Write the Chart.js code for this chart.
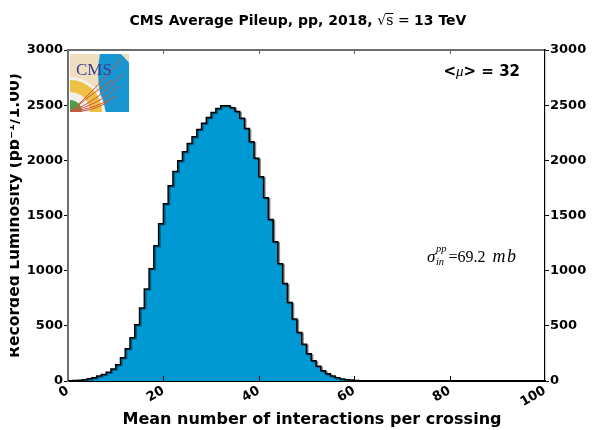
<!DOCTYPE html>
<html>
<head>
<meta charset="utf-8">
<script src="https://cdn.jsdelivr.net/npm/chart.js@4.4.1/dist/chart.umd.min.js"></script>
<style>
  html, body { margin: 0; padding: 0; background: #fff; }
</style>
</head>
<body>
<canvas id="pileup" width="602" height="430"></canvas>
<script>
"use strict";
// recorded luminosity (pb^-1) in each pileup bin of width 1, starting at 0
const binLow = 0;
const binWidth = 1;
const lumiPerBin = [
  1, 2, 4, 7, 12, 21, 30, 45, 60, 80,
  108, 148, 210, 292, 391, 510, 661, 833, 1017, 1226,
  1425, 1606, 1769, 1899, 1996, 2077, 2153, 2213, 2279, 2337,
  2388, 2433, 2470, 2494, 2494, 2476, 2442, 2382, 2288, 2168,
  2020, 1851, 1660, 1464, 1262, 1063, 884, 712, 562, 440,
  332, 248, 184, 133, 94, 66, 45, 30, 19, 12,
  8, 5, 3, 2, 1, 1, 0.5, 0.3, 0.2, 0.1,
  0, 0, 0, 0, 0, 0, 0, 0, 0, 0,
  0, 0, 0, 0, 0, 0, 0, 0, 0, 0,
  0, 0, 0, 0, 0, 0, 0, 0, 0, 0,
];
const xTicks = [0, 20, 40, 60, 80, 100];
const yTicks = [0, 500, 1000, 1500, 2000, 2500, 3000];
const meanPileup = 32;
const sigmaInel = "69.2";

const sans = "'DejaVu Sans', sans-serif";
const serif = "'Liberation Serif', 'DejaVu Serif', serif";
const fillBlue = "#0099d4";

// step outline points: each bin starts at its lower edge, last point closes at 100
const stepPoints = lumiPerBin.map((v, i) => ({ x: binLow + i * binWidth, y: v }));
stepPoints.push({ x: binLow + lumiPerBin.length * binWidth, y: lumiPerBin[lumiPerBin.length - 1] });

// draw a row of text pieces with different fonts
const drawRuns = (ctx, runs, x, y, align) => {
  let total = 0;
  for (const r of runs) {
    ctx.font = r.font;
    r.w = ctx.measureText(r.text).width + (r.gap || 0);
    total += r.w;
  }
  let cx = align === "center" ? x - total / 2 : align === "right" ? x - total : x;
  ctx.textAlign = "left";
  ctx.textBaseline = "alphabetic";
  for (const r of runs) {
    ctx.font = r.font;
    ctx.fillText(r.text, cx + (r.gap || 0), y + (r.dy || 0));
    if (r.over) {
      ctx.fillRect(cx - 1, y - r.over, r.w + 1, 1);
    }
    cx += r.w;
  }
  return cx;
};

const drawLogo = (ctx, x, y, w, h) => {
  ctx.save();
  ctx.beginPath();
  ctx.rect(x, y, w, h);
  ctx.clip();
  ctx.fillStyle = "#efdfbe";
  ctx.fillRect(x, y, w, h);
  const ox = x, oy = y + h;
  const disk = (r, color) => {
    ctx.fillStyle = color;
    ctx.beginPath();
    ctx.arc(ox, oy, r, 0, Math.PI * 2);
    ctx.fill();
  };
  // outer muon crescent
  ctx.fillStyle = "#1896d2";
  ctx.beginPath();
  ctx.moveTo(ox + 36, oy);
  ctx.lineTo(ox + 77, oy);
  ctx.arc(ox, oy, 77, 0, -Math.PI * 0.36, true);
  ctx.quadraticCurveTo(ox + 22, oy - 34, ox + 36, oy);
  ctx.closePath();
  ctx.fill();
  disk(35, "#f4f1ea");
  disk(32, "#ecc144");
  disk(20, "#f1efea");
  disk(12, "#4d9e4a");
  // tracks
  ctx.strokeStyle = "#d2543d";
  ctx.lineWidth = 1;
  const tracks = [
    [95, 90, 121, 59],
    [100, 100, 122, 74],
    [100, 104, 119, 86],
    [98, 108, 116, 96],
    [92, 112, 108, 102],
    [90, 95, 112, 80],
  ];
  for (const [cx, cy, ex, ey] of tracks) {
    ctx.beginPath();
    ctx.moveTo(ox, oy);
    ctx.quadraticCurveTo(cx, cy, ex, ey);
    ctx.stroke();
  }
  ctx.fillStyle = "#3a3f92";
  ctx.font = "17px " + serif;
  ctx.textAlign = "left";
  ctx.textBaseline = "alphabetic";
  ctx.fillText("CMS", x + 6, y + 21);
  ctx.restore();
};

const decorations = {
  id: "decorations",
  beforeDatasetsDraw(chart) {
    const ctx = chart.ctx;
    ctx.save();
    ctx.shadowColor = "rgba(0,0,0,0.35)";
    ctx.shadowOffsetX = 1.5;
    ctx.shadowOffsetY = 1;
  },
  afterDatasetsDraw(chart) {
    chart.ctx.restore();
  },
  afterDraw(chart) {
    const ctx = chart.ctx;
    const area = chart.chartArea;
    const xs = chart.scales.x;
    ctx.save();

    // inward tick marks on bottom and top edges
    for (const v of xTicks.slice(1, -1)) {
      const px = Math.round(xs.getPixelForValue(v)) + 0.5;
      ctx.strokeStyle = "#000";
      ctx.lineWidth = 1;
      ctx.beginPath();
      ctx.moveTo(px, area.bottom);
      ctx.lineTo(px, area.bottom - 5);
      ctx.stroke();
      ctx.strokeStyle = "#666";
      ctx.beginPath();
      ctx.moveTo(px, area.top);
      ctx.lineTo(px, area.top + 4);
      ctx.stroke();
    }

    ctx.fillStyle = "#000";
    // title
    drawRuns(ctx, [
      { text: "CMS Average Pileup, pp, 2018, ", font: "bold 14px " + sans },
      { text: "√", font: "14px 'DejaVu Serif', serif" },
      { text: "s", font: "14px 'DejaVu Serif', serif", over: 12 },
      { text: " = ", font: "14px 'DejaVu Serif', serif" },
      { text: "13 TeV", font: "bold 14px " + sans },
    ], 298, 25, "center");

    // axis titles
    ctx.font = "bold 16px " + sans;
    ctx.textAlign = "center";
    ctx.textBaseline = "alphabetic";
    ctx.fillText("Mean number of interactions per crossing", 312, 424);
    ctx.save();
    // the left edge of the page trims the tops of the rotated glyphs
    ctx.beginPath();
    ctx.rect(10, 0, 40, 430);
    ctx.clip();
    ctx.font = "bold 15.5px " + sans;
    ctx.translate(19, (area.top + area.bottom) / 2);
    ctx.rotate(-Math.PI / 2);
    ctx.fillText("Recorded Luminosity (pb⁻¹/1.00)", 0, 0);
    ctx.restore();

    // mean pileup
    drawRuns(ctx, [
      { text: "<", font: "bold 15px " + sans },
      { text: "μ", font: "italic 15px " + serif },
      { text: "> = " + meanPileup, font: "bold 15px " + sans },
    ], 520, 76, "right");

    // inelastic cross section
    let cx = 427;
    const base = 262;
    ctx.font = "italic 17px " + serif;
    ctx.textAlign = "left";
    ctx.fillText("σ", cx, base);
    cx += ctx.measureText("σ").width + 0.5;
    ctx.font = "italic 10.5px " + serif;
    ctx.fillText("pp", cx, base - 10);
    ctx.fillText("in", cx, base + 3);
    cx += ctx.measureText("pp").width + 2;
    drawRuns(ctx, [
      { text: "=" + sigmaInel, font: "16px " + serif },
      { text: "m", font: "italic 18px " + serif, gap: 7 },
      { text: "b", font: "italic 18px " + serif, gap: 1.5 },
    ], cx, base, "left");

    drawLogo(ctx, area.left + 2, area.top + 4, 59, 58);
    ctx.restore();
  },
};

const tickFont = { family: sans, size: 13, weight: "bold" };
const yAxis = (position, width, borderColor, borderWidth) => ({
  type: "linear",
  position,
  min: yTicks[0],
  max: yTicks[yTicks.length - 1],
  afterBuildTicks: (scale) => {
    scale.ticks = yTicks.map((v) => ({ value: v }));
  },
  afterFit: (scale) => {
    scale.width = width;
  },
  ticks: {
    color: "#000",
    font: tickFont,
    padding: 1,
    callback: (v) => String(v),
  },
  grid: {
    drawOnChartArea: false,
    drawTicks: true,
    tickLength: 4,
    color: "#000",
  },
  border: { display: true, color: borderColor, width: borderWidth },
});

const ctx = document.getElementById("pileup").getContext("2d");
const chart = new Chart(ctx, {
  type: "line",
  data: {
    datasets: [
      {
        label: "Recorded luminosity",
        data: stepPoints,
        stepped: "after",
        fill: "origin",
        backgroundColor: fillBlue,
        borderColor: "#000",
        borderWidth: 1.5,
        pointRadius: 0,
        xAxisID: "x",
        yAxisID: "y",
      },
    ],
  },
  options: {
    responsive: false,
    devicePixelRatio: 1,
    animation: false,
    layout: { padding: 0 },
    plugins: {
      legend: { display: false },
      title: { display: false },
      tooltip: { enabled: false },
    },
    scales: {
      x: {
        type: "linear",
        position: "bottom",
        min: xTicks[0],
        max: xTicks[xTicks.length - 1],
        afterBuildTicks: (scale) => {
          scale.ticks = xTicks.map((v) => ({ value: v }));
        },
        afterFit: (scale) => {
          scale.height = 49;
        },
        ticks: {
          color: "#000",
          font: tickFont,
          minRotation: 30,
          maxRotation: 30,
          padding: 2,
          callback: (v) => String(v),
        },
        grid: { drawOnChartArea: false, drawTicks: false },
        border: { display: true, color: "#000", width: 2 },
      },
      x2: {
        type: "linear",
        position: "top",
        min: xTicks[0],
        max: xTicks[xTicks.length - 1],
        afterFit: (scale) => {
          scale.height = 50;
        },
        ticks: { display: false },
        grid: { drawOnChartArea: false, drawTicks: false },
        border: { display: true, color: "#6e6e6e", width: 2 },
      },
      y: yAxis("left", 68, "#6e6e6e", 2),
      y2: yAxis("right", 57, "#000", 1.2),
    },
  },
  plugins: [decorations],
});
</script>
</body>
</html>
